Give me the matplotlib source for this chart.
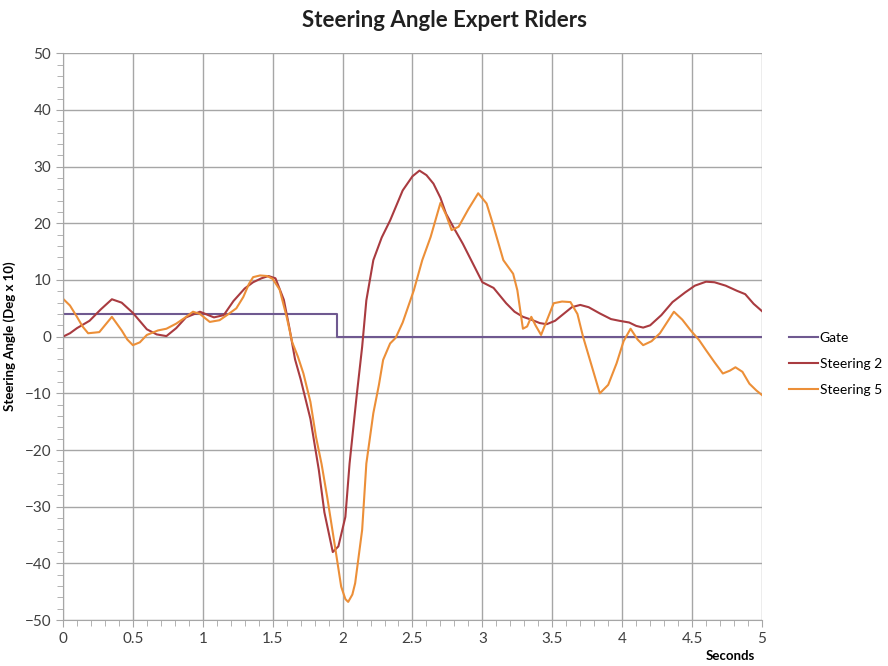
import matplotlib.pyplot as plt
from matplotlib.ticker import MultipleLocator

# Gate signal
gate_t = [0.0, 1.96, 1.96, 5.0]
gate_v = [4.0, 4.0, 0.0, 0.0]

# Steering 2
s2_t = [0.0, 0.05, 0.1, 0.19, 0.27, 0.35, 0.42, 0.5, 0.6, 0.67, 0.74, 0.81, 0.88, 0.98,
        1.08, 1.15, 1.22, 1.3, 1.36, 1.42, 1.47, 1.52, 1.58, 1.62, 1.66, 1.7, 1.77, 1.83,
        1.87, 1.93, 1.97, 2.02, 2.05, 2.1, 2.14, 2.17, 2.22, 2.28, 2.34, 2.43, 2.5, 2.55,
        2.6, 2.65, 2.7, 2.74, 2.8, 2.86, 2.93, 3.0, 3.08, 3.17, 3.23, 3.29, 3.35, 3.41,
        3.46, 3.52, 3.58, 3.64, 3.7, 3.76, 3.84, 3.92, 3.98, 4.05, 4.1, 4.15, 4.2, 4.28,
        4.36, 4.45, 4.52, 4.6, 4.66, 4.74, 4.82, 4.88, 4.94, 5.0]
s2_v = [0.0, 0.6, 1.5, 2.8, 4.8, 6.6, 6.0, 4.2, 1.3, 0.4, 0.1, 1.5, 3.4, 4.4,
        3.4, 3.8, 6.3, 8.5, 9.6, 10.3, 10.7, 10.3, 6.5, 1.5, -4.0, -7.5, -14.5, -23.5,
        -31.0, -38.0, -37.0, -31.8, -22.4, -10.6, -1.8, 6.4, 13.5, 17.5, 20.5, 25.8, 28.3, 29.3,
        28.5, 27.0, 24.5, 21.7, 19.0, 16.4, 13.0, 9.6, 8.6, 5.9, 4.4, 3.5, 3.0, 2.4,
        2.2, 2.8, 4.0, 5.2, 5.6, 5.2, 4.1, 3.1, 2.8, 2.5, 1.9, 1.6, 2.0, 3.8,
        6.1, 7.8, 9.0, 9.7, 9.6, 9.0, 8.1, 7.5, 5.8, 4.5]

# Steering 5
s5_t = [0.0, 0.05, 0.1, 0.14, 0.18, 0.26, 0.31, 0.35, 0.42, 0.46, 0.5, 0.55, 0.6, 0.68,
        0.74, 0.81, 0.87, 0.93, 0.98, 1.05, 1.12, 1.19, 1.24, 1.29, 1.33, 1.36, 1.41, 1.46,
        1.5, 1.55, 1.6, 1.64, 1.68, 1.72, 1.77, 1.81, 1.85, 1.89, 1.95, 1.99, 2.02, 2.04,
        2.07, 2.09, 2.14, 2.17, 2.22, 2.26, 2.29, 2.34, 2.38, 2.43, 2.51, 2.57, 2.63, 2.7,
        2.74, 2.78, 2.83, 2.9, 2.97, 3.03, 3.07, 3.15, 3.22, 3.25, 3.29, 3.32, 3.35, 3.38,
        3.42, 3.46, 3.51, 3.57, 3.63, 3.68, 3.72, 3.78, 3.84, 3.9, 3.96, 4.01, 4.06, 4.11,
        4.15, 4.21, 4.27, 4.32, 4.37, 4.43, 4.49, 4.55, 4.6, 4.66, 4.72, 4.77, 4.81, 4.86,
        4.91, 4.96, 5.0]
s5_v = [6.7, 5.5, 3.5, 1.8, 0.6, 0.8, 2.3, 3.5, 1.1, -0.5, -1.5, -1.0, 0.3, 1.1,
        1.4, 2.3, 3.3, 4.4, 4.0, 2.6, 2.9, 4.1, 5.0, 7.0, 9.3, 10.5, 10.8, 10.7,
        10.2, 8.3, 3.5, -1.0, -3.5, -6.5, -11.5, -17.7, -22.5, -28.3, -37.7, -44.1, -46.3, -46.8,
        -45.5, -43.5, -34.1, -22.4, -13.5, -8.5, -4.1, -1.2, -0.2, 2.5, 8.2, 13.5, 17.6, 23.6,
        21.5, 18.8, 19.4, 22.5, 25.3, 23.5, 20.3, 13.5, 11.1, 8.2, 1.4, 1.8, 3.5, 2.0,
        0.3, 2.8, 5.9, 6.2, 6.1, 4.0, 0.0, -5.0, -10.0, -8.5, -4.7, -0.8, 1.4, -0.5,
        -1.5, -0.8, 0.6, 2.5, 4.4, 3.0, 1.1, -0.6, -2.4, -4.5, -6.5, -6.0, -5.4, -6.2,
        -8.3, -9.5, -10.3]

plt.rcParams['font.family'] = ['Lato', 'DejaVu Sans']

fig = plt.figure(figsize=(8.88, 6.66), dpi=100)
ax = fig.add_axes([0.0709, 0.069, 0.7872, 0.851])

ax.plot(gate_t, gate_v, color='#6F5990', lw=1.5, label='Gate')
ax.plot(s2_t, s2_v, color='#A93B40', lw=1.5, label='Steering 2')
ax.plot(s5_t, s5_v, color='#EC8F38', lw=1.5, label='Steering 5')

ax.set_xlim(0, 5)
ax.set_ylim(-50, 50)
ax.xaxis.set_minor_locator(MultipleLocator(0.1))
ax.yaxis.set_major_locator(MultipleLocator(10))
ax.yaxis.set_minor_locator(MultipleLocator(2))
ax.set_xticks([0, 0.5, 1, 1.5, 2, 2.5, 3, 3.5, 4, 4.5, 5])
ax.set_xticklabels(['0', '0.5', '1', '1.5', '2', '2.5', '3', '3.5', '4', '4.5', '5'])

ax.grid(True, which='major', color='#A6A6A6', lw=1.0)
ax.set_axisbelow(True)
for side in ['top', 'right']:
    ax.spines[side].set_visible(False)
for side in ['left', 'bottom']:
    ax.spines[side].set_color('#A6A6A6')
ax.tick_params(which='both', colors='#A6A6A6', labelcolor='#404040', labelsize=11)
ax.tick_params(which='major', length=5)
ax.tick_params(which='minor', length=4)

fig.suptitle('Steering Angle Expert Riders', x=0.5, y=0.985, fontsize=16,
             fontweight='bold', color='#202020')
ax.set_ylabel('Steering Angle (Deg x 10)', fontsize=9.5, fontweight='bold', labelpad=6)
fig.text(0.822, 0.006, 'Seconds', fontsize=9.5, fontweight='bold', ha='center', va='bottom')

ax.legend(loc='center left', bbox_to_anchor=(1.038, 0.452), frameon=False,
          borderaxespad=0, borderpad=0,
          fontsize=10, handlelength=2.1, labelspacing=1.0, handletextpad=0.15)

fig.savefig('out.png', dpi=100)
